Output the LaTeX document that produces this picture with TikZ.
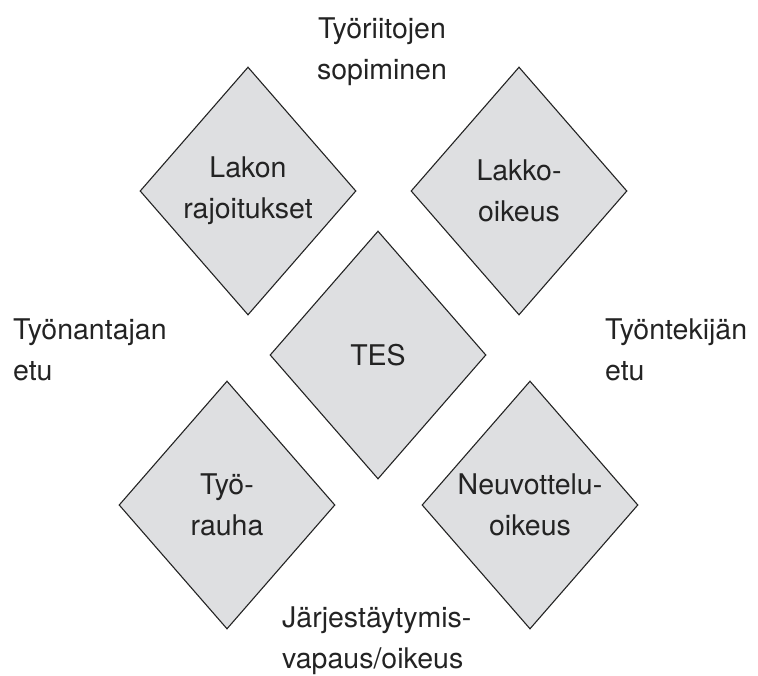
\documentclass[tikz,border=0pt]{standalone}
\usepackage{fontspec}
\setmainfont{TeX Gyre Heros}
\usetikzlibrary{shapes.geometric}

\definecolor{tilegray}{RGB}{222,223,225}
\definecolor{inkgray}{RGB}{35,35,35}

\begin{document}
\begin{tikzpicture}[x=1pt, y=-1pt,
	every node/.style={font=\fontsize{28.5}{41}\selectfont, text=inkgray, inner sep=0pt, align=center},
	tile/.style={diamond, draw=inkgray, fill=tilegray, line width=1.1pt, aspect=0.871, minimum width=216pt, minimum height=248pt}]

				\useasboundingbox (0,0) rectangle (758,675);

				\node[tile] (tes) at (378,355) {TES};
				\node[tile] (rajoitukset) at (248,191) {Lakon\\rajoitukset};
				\node[tile] (lakko) at (519,191) {Lakko-\\oikeus};
				\node[tile] (rauha) at (227,505) {Työ-\\rauha};
				\node[tile] (neuvottelu) at (530,505) {Neuvottelu-\\oikeus};

				\node[anchor=north] (sopiminen) at (382,17.5) {Työriitojen\\sopiminen};
				\node[anchor=north west, align=left] (antaja) at (13,318.5) {Työnantajan\\etu};
				\node[anchor=north west, align=left] (tekija) at (605,318.5) {Työntekijän\\etu};
				\node[anchor=north west, align=left] (vapaus) at (282,606.5) {Järjestäytymis-\\vapaus/oikeus};
			\end{tikzpicture}
\end{document}
